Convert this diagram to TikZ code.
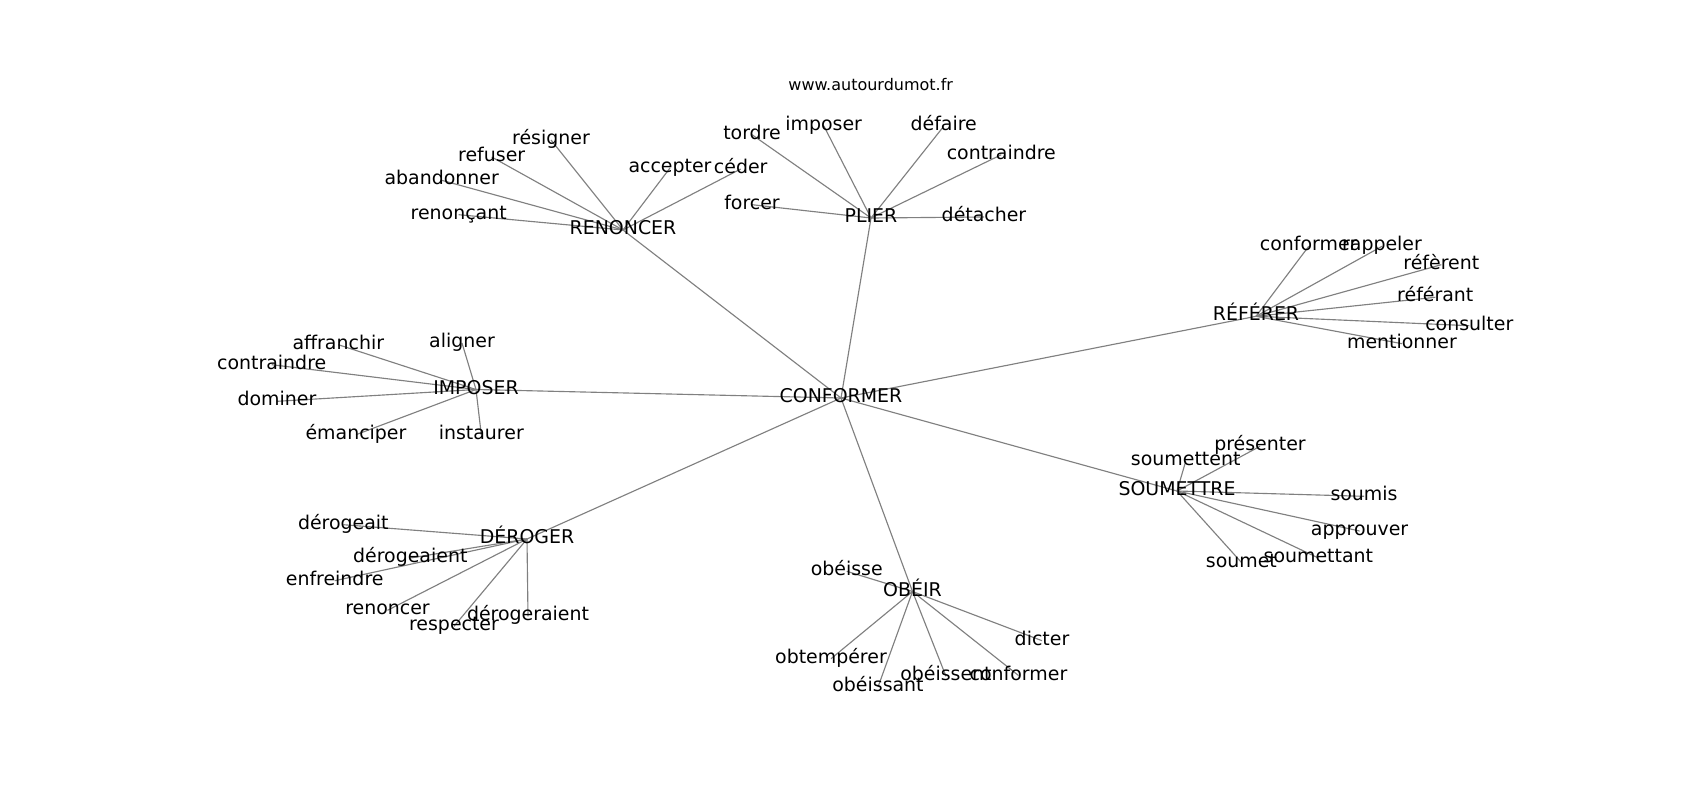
\documentclass[tikz,border=0pt]{standalone}
\usepackage{fontspec}
\setmainfont{DejaVu Sans}
\pgfdeclarelayer{bglayer}
\pgfdeclarelayer{edgelayer}
\pgfsetlayers{bglayer,edgelayer,main}
\tikzset{
  lbl/.style={font=\fontsize{14.2pt}{16pt}\selectfont, text=black, inner sep=0pt, outer sep=0pt,
              text height=0.93em, text depth=0.24em, anchor=center},
  ttl/.style={font=\fontsize{12pt}{14pt}\selectfont, text=black, inner sep=0pt,
              text height=0.93em, text depth=0.24em, anchor=center},
  edge/.style={draw=black!50, line width=0.85pt}
}
\begin{document}
\begin{tikzpicture}[x=0.75pt,y=-0.75pt]
\useasboundingbox (0,0) rectangle (1700,800);
\begin{pgfonlayer}{bglayer}
\fill[white] (0,0) rectangle (1700,800);
\end{pgfonlayer}
\begin{scope}[shift={(0,3)}]
\node[ttl] (title) at (870.7,82.7) {www.autourdumot.fr};
% hubs
\node[lbl] (C) at (841,395) {CONFORMER};
\node[lbl] (REN) at (623,227) {RENONCER};
\node[lbl] (PLI) at (871,215) {PLIER};
\node[lbl] (REF) at (1256,313.3) {RÉFÉRER};
\node[lbl] (IMP) at (476,386.5) {IMPOSER};
\node[lbl] (DER) at (527,536) {DÉROGER};
\node[lbl] (SOU) at (1177,488) {SOUMETTRE};
\node[lbl] (OBE) at (912.5,588.5) {OBÉIR};
% RENONCER leaves
\node[lbl] (ren1) at (551,137) {résigner};
\node[lbl] (ren2) at (491.7,154) {refuser};
\node[lbl] (ren3) at (441.7,177.3) {abandonner};
\node[lbl] (ren4) at (458.7,211.7) {renonçant};
\node[lbl] (ren5) at (670,165) {accepter};
\node[lbl] (ren6) at (740.7,166) {céder};
% PLIER leaves
\node[lbl] (pli1) at (752,131.7) {tordre};
\node[lbl] (pli2) at (823.7,122.7) {imposer};
\node[lbl] (pli3) at (943.7,123.3) {défaire};
\node[lbl] (pli4) at (1001.3,151.7) {contraindre};
\node[lbl] (pli5) at (752,201.7) {forcer};
\node[lbl] (pli6) at (984,214) {détacher};
% REFERER leaves
\node[lbl] (ref1) at (1308.7,243.3) {conformer};
\node[lbl] (ref2) at (1382,243.3) {rappeler};
\node[lbl] (ref3) at (1441.3,261.7) {réfèrent};
\node[lbl] (ref4) at (1435.3,294.3) {référant};
\node[lbl] (ref5) at (1469.3,322.7) {consulter};
\node[lbl] (ref6) at (1402,340.7) {mentionner};
% IMPOSER leaves
\node[lbl] (imp1) at (338.3,341.7) {affranchir};
\node[lbl] (imp2) at (462,340) {aligner};
\node[lbl] (imp3) at (271.7,361.7) {contraindre};
\node[lbl] (imp4) at (277,398.3) {dominer};
\node[lbl] (imp5) at (356,431.7) {émanciper};
\node[lbl] (imp6) at (481.3,431.7) {instaurer};
% DEROGER leaves
\node[lbl] (der1) at (343.3,521.7) {dérogeait};
\node[lbl] (der2) at (410.3,555) {dérogeaient};
\node[lbl] (der3) at (334.7,577.7) {enfreindre};
\node[lbl] (der4) at (387.5,607.3) {renoncer};
\node[lbl] (der5) at (454,623.3) {respecter};
\node[lbl] (der6) at (528,613.3) {dérogeraient};
% SOUMETTRE leaves
\node[lbl] (sou1) at (1260,443.3) {présenter};
\node[lbl] (sou2) at (1185.7,458.3) {soumettent};
\node[lbl] (sou3) at (1364,493.3) {soumis};
\node[lbl] (sou4) at (1359.6,528) {approuver};
\node[lbl] (sou5) at (1318.4,555) {soumettant};
\node[lbl] (sou6) at (1241.4,559.4) {soumet};
% OBEIR leaves
\node[lbl] (obe1) at (846.7,568.3) {obéisse};
\node[lbl] (obe2) at (1042,637.7) {dicter};
\node[lbl] (obe3) at (831,655.7) {obtempérer};
\node[lbl] (obe4) at (878,684) {obéissant};
\node[lbl] (obe5) at (946,673.3) {obéissent};
\node[lbl] (obe6) at (1018.5,672.5) {conformer};
\end{scope}
\begin{pgfonlayer}{edgelayer}
\foreach \h in {REN,PLI,REF,IMP,DER,SOU,OBE} \draw[edge] (C.center) -- (\h.center);
\foreach \i in {1,...,6} {
  \draw[edge] (REN.center) -- (ren\i.center);
  \draw[edge] (PLI.center) -- (pli\i.center);
  \draw[edge] (REF.center) -- (ref\i.center);
  \draw[edge] (IMP.center) -- (imp\i.center);
  \draw[edge] (DER.center) -- (der\i.center);
  \draw[edge] (SOU.center) -- (sou\i.center);
  \draw[edge] (OBE.center) -- (obe\i.center);
}
\end{pgfonlayer}
\end{tikzpicture}
\end{document}
